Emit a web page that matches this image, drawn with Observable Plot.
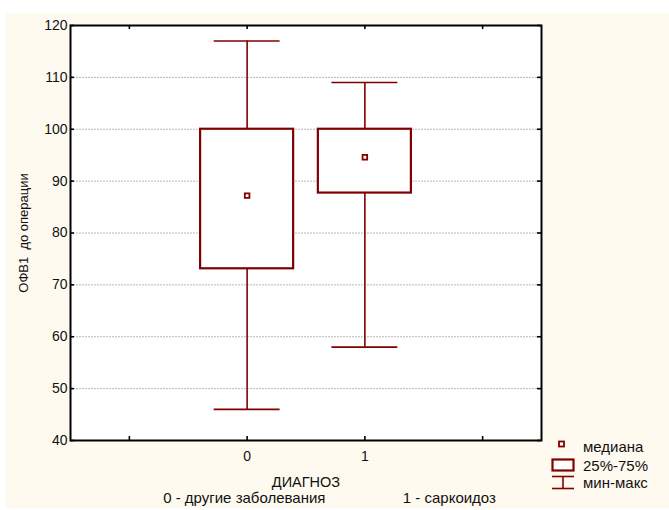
<!DOCTYPE html>
<html><head><meta charset="utf-8">
<script src="https://cdn.jsdelivr.net/npm/d3@7"></script>
<script src="https://cdn.jsdelivr.net/npm/@observablehq/plot@0.6"></script>
<style>
body{margin:0;background:#fff;}
#wrap{position:relative;width:669px;height:510px;overflow:hidden;}
#bg{position:absolute;left:6px;top:13px;width:663px;height:495px;background:#fffaf0;}
#chart{position:absolute;left:0;top:0;}
#chart svg{background:transparent !important;}
#legend{position:absolute;left:548px;top:436px;}
</style></head><body>
<div id="wrap"><div id="bg"></div><div id="chart"></div><div id="legend"></div></div>
<script>
// ---- data ----
const categories = [0, 1];
const minValues = [46, 58];
const q1Values = [73.1, 87.7];
const medianValues = [87.2, 94.6];
const q3Values = [100, 100];
const maxValues = [117, 109];
const xTickValues = [-1, 0, 1, 2];
const xLabelValues = [0, 1];
const yTickValues = [40, 50, 60, 70, 80, 90, 100, 110, 120];
const yLabel = "ОФВ1  до операции";
const xLabel = "ДИАГНОЗ";
const captionTexts = ["0 - другие заболевания", "1 - саркоидоз"];
const captionX = [-0.713, 1.322];
const legendLabels = ["медиана", "25%-75%", "мин-макс"];

// ---- layout / style ----
const W = 669, H = 510;
const mL = 70, mR = 128, mT = 25, mB = 70;
const plotW = W - mL - mR, plotH = H - mT - mB;
const red = "#800000";
const font = "'Liberation Sans', Arial, sans-serif";
const boxHalf = 0.395, capHalf = 0.28, tick = 4;

const rows = categories.map((c, i) => ({
  cat: c, min: minValues[i], q1: q1Values[i], median: medianValues[i], q3: q3Values[i], max: maxValues[i]
}));

const chart = Plot.plot({
  width: W, height: H,
  marginLeft: mL, marginRight: mR, marginTop: mT, marginBottom: mB,
  style: {fontFamily: font, fontSize: "14px", color: "#111", background: "transparent"},
  x: {type: "linear", domain: [-1.5, 2.5], axis: null},
  y: {domain: [40, 120], axis: null},
  marks: [
    Plot.frame({fill: "white", stroke: null}),
    Plot.gridY(yTickValues, {stroke: "#b8b8b8", strokeOpacity: 1, strokeDasharray: "2,1"}),
    // whiskers
    Plot.ruleX(rows, {x: "cat", y1: "q3", y2: "max", stroke: red, strokeWidth: 1.6}),
    Plot.ruleX(rows, {x: "cat", y1: "min", y2: "q1", stroke: red, strokeWidth: 1.6}),
    Plot.ruleY(rows, {y: "max", x1: d => d.cat - capHalf, x2: d => d.cat + capHalf, stroke: red, strokeWidth: 1.6}),
    Plot.ruleY(rows, {y: "min", x1: d => d.cat - capHalf, x2: d => d.cat + capHalf, stroke: red, strokeWidth: 1.6}),
    // boxes
    Plot.rect(rows, {x1: d => d.cat - boxHalf, x2: d => d.cat + boxHalf, y1: "q1", y2: "q3", fill: "white", stroke: red, strokeWidth: 2.2}),
    // medians
    Plot.dot(rows, {x: "cat", y: "median", symbol: "square", r: 2.6, fill: "white", stroke: red, strokeWidth: 1.8}),
    // frame
    Plot.frame({stroke: "#000", strokeWidth: 2}),
    // inward ticks
    Plot.tickX(xTickValues, {x: d => d, insetTop: plotH - tick, stroke: "#000", strokeWidth: 1.6}),
    Plot.tickX(xTickValues, {x: d => d, insetBottom: plotH - tick, stroke: "#000", strokeWidth: 1.6}),
    Plot.tickY(yTickValues, {y: d => d, insetRight: plotW - tick, stroke: "#000", strokeWidth: 1.6}),
    Plot.tickY(yTickValues, {y: d => d, insetLeft: plotW - tick, stroke: "#000", strokeWidth: 1.6}),
    // axis labels
    Plot.axisY(yTickValues, {anchor: "left", tickSize: 0, tickPadding: 3, label: null, fontSize: 14, fill: "#111"}),
    Plot.axisX(xLabelValues, {anchor: "bottom", tickSize: 0, tickPadding: 11, label: null, fontSize: 14, fill: "#111", tickFormat: d => String(d)}),
    Plot.text([yLabel], {text: d => d, frameAnchor: "left", textAnchor: "middle", rotate: -90, dx: -47, fontSize: 13, fill: "#111"}),
    Plot.text([xLabel], {x: () => 0.5, text: d => d, frameAnchor: "bottom", dy: 46, fontSize: 14.5, fill: "#111"}),
    Plot.text(captionTexts, {x: (d, i) => captionX[i], text: d => d, frameAnchor: "bottom", dy: 62, textAnchor: "start", fontSize: 15, fill: "#111"})
  ]
});
document.getElementById("chart").appendChild(chart);

// ---- legend ----
const lg = d3.select("#legend").append("svg").attr("width", 121).attr("height", 60)
  .style("font-family", "'Liberation Sans', Arial, sans-serif").style("font-size", "15px");
lg.append("rect").attr("x", 11).attr("y", 5.5).attr("width", 5).attr("height", 5)
  .attr("fill", "white").attr("stroke", red).attr("stroke-width", 1.8);
lg.append("rect").attr("x", 4.5).attr("y", 23.5).attr("width", 21).attr("height", 11)
  .attr("fill", "white").attr("stroke", red).attr("stroke-width", 2.2);
lg.append("line").attr("x1", 4).attr("x2", 26).attr("y1", 40.5).attr("y2", 40.5).attr("stroke", red).attr("stroke-width", 1.6);
lg.append("line").attr("x1", 4).attr("x2", 26).attr("y1", 52.5).attr("y2", 52.5).attr("stroke", red).attr("stroke-width", 1.6);
lg.append("line").attr("x1", 15).attr("x2", 15).attr("y1", 40.5).attr("y2", 52.5).attr("stroke", red).attr("stroke-width", 1.6);
const ys = [16, 35, 51.7];
legendLabels.forEach((t, i) => lg.append("text").attr("x", 35).attr("y", ys[i]).attr("fill", "#111").text(t));
</script>
</body></html>
